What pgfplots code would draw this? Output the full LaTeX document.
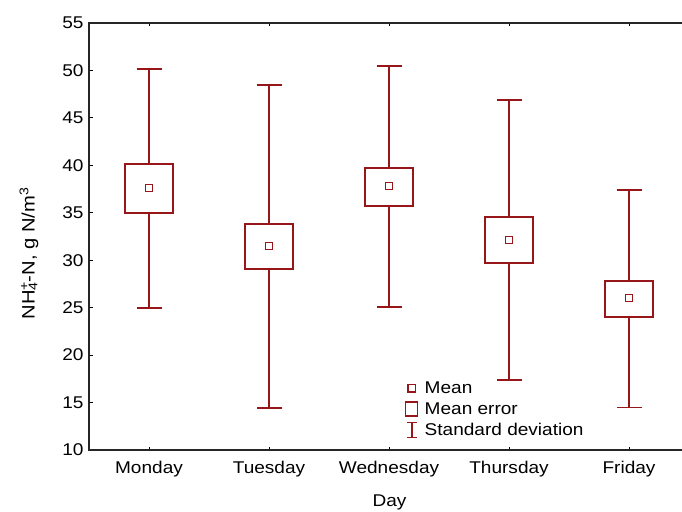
\documentclass[border=0pt]{standalone}
\usepackage{fontspec}
\setmainfont{Liberation Sans}[FakeStretch=1.12]
\usepackage{pgfplots}
\usepackage{pgfplotstable}
\pgfplotsset{compat=1.18}
\definecolor{dred}{RGB}{150,22,26}
\pgfplotstableread{
x mean selo sehi sdlo sdhi
0 37.61 34.98 40.14 24.97 50.15
1 31.50 29.08 33.82 14.45 48.47
2 37.82 35.71 39.72 25.07 50.47
3 32.13 29.71 34.56 17.38 46.89
4 26.02 24.02 27.81 14.50 37.40
}\data
\begin{document}
\begin{tikzpicture}
\path[use as bounding box] (0pt,0pt) rectangle (682pt,511pt);
\begin{axis}[
  at={(89pt,61pt)}, anchor=south west,
  scale only axis, width=601pt, height=427pt,
  xmin=-0.5, xmax=4.508, ymin=10, ymax=55,
  xtick={0,1,2,3,4},
  xticklabels={Monday,Tuesday,Wednesday,Thursday,Friday},
  ytick={10,15,...,55},
  tick align=inside, major tick length=3.5pt,
  tick style={black, line width=0.9pt},
  axis line style={line width=1.4pt, draw=black!85},
  font=\fontsize{17}{20}\selectfont,
  /pgf/number format/assume math mode=true,
  xticklabel style={yshift=-8pt},
  yticklabel style={xshift=-2pt},
  xlabel={Day},
  xlabel style={yshift=-11pt},
  ylabel={NH\rlap{\textsuperscript{+}}\textsubscript{4}-N, g N/m\textsuperscript{3}},
  ylabel style={font=\fontsize{18}{20}\selectfont, xshift=-17pt},
  ylabel shift=17pt,
  legend style={at={(0.52,0.17)}, anchor=north west, draw=none, fill=none,
    font=\fontsize{17}{19}\selectfont, row sep=3.5pt},
  legend cell align=left,
]
\addlegendimage{legend image code/.code={
  \path[draw=none,fill=none] (-7pt,-8pt) rectangle (11pt,8pt);
  \draw[draw=dred, solid, line width=1.4pt, fill=white] (-3.6pt,-3.6pt) rectangle (3.6pt,3.6pt);}}
\addlegendentry{Mean}
\addlegendimage{legend image code/.code={
  \path[draw=none,fill=none] (-7pt,-8pt) rectangle (11pt,8pt);
  \draw[draw=dred, solid, line width=1.4pt, fill=white] (-6pt,-7pt) rectangle (6pt,7pt);}}
\addlegendentry{Mean error}
\addlegendimage{legend image code/.code={
  \path[draw=none,fill=none] (-7pt,-8pt) rectangle (11pt,8pt);
  \draw[draw=dred, solid, line width=1.6pt] (-5pt,-7.5pt) -- (5pt,-7.5pt);
  \draw[draw=dred, solid, line width=1.6pt] (0pt,-7.5pt) -- (0pt,7.5pt);
  \draw[draw=dred, solid, line width=1.6pt] (-5pt,7.5pt) -- (5pt,7.5pt);}}
\addlegendentry{Standard deviation}
% standard deviation whiskers
\addplot[draw=none, mark=none, forget plot,
  error bars/.cd, y dir=both, y explicit, error mark=|,
  error bar style={dred, line width=1.5pt, solid},
  error mark options={dred, mark size=12.5pt, line width=1.5pt, solid}]
  table[x=x, y=mean,
        y error plus expr=\thisrow{sdhi}-\thisrow{mean},
        y error minus expr=\thisrow{mean}-\thisrow{sdlo}] {\data};
% mean error boxes
\addplot[dred, line width=1.5pt, fill=white, forget plot] coordinates {(-0.2,34.98) (0.2,34.98) (0.2,40.14) (-0.2,40.14)} -- cycle;
\addplot[dred, line width=1.5pt, fill=white, forget plot] coordinates {(0.8,29.08) (1.2,29.08) (1.2,33.82) (0.8,33.82)} -- cycle;
\addplot[dred, line width=1.5pt, fill=white, forget plot] coordinates {(1.8,35.71) (2.2,35.71) (2.2,39.72) (1.8,39.72)} -- cycle;
\addplot[dred, line width=1.5pt, fill=white, forget plot] coordinates {(2.8,29.71) (3.2,29.71) (3.2,34.56) (2.8,34.56)} -- cycle;
\addplot[dred, line width=1.5pt, fill=white, forget plot] coordinates {(3.8,24.02) (4.2,24.02) (4.2,27.81) (3.8,27.81)} -- cycle;
% means
\addplot[only marks, mark=square, mark size=3.6pt, forget plot,
  mark options={dred, solid, fill=white, line width=1.4pt}]
  table[x=x, y=mean] {\data};
\end{axis}
\end{tikzpicture}
\end{document}
